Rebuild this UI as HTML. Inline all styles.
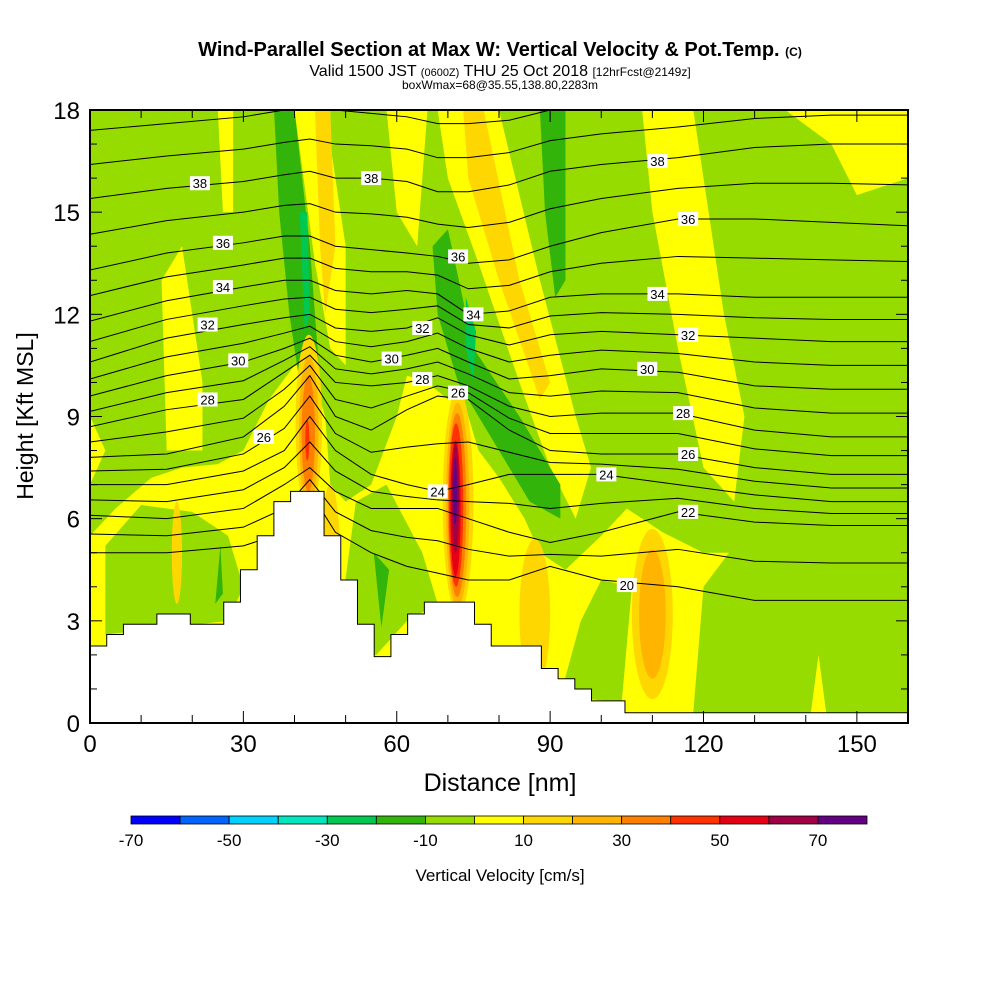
<!DOCTYPE html>
<html><head><meta charset="utf-8"><style>
body{margin:0;background:#fff;}
svg{display:block;font-family:"Liberation Sans",sans-serif;}
</style></head><body>
<svg id="c" width="1000" height="1000" viewBox="0 0 1000 1000">
<text x="500" y="56" text-anchor="middle" font-size="20" font-weight="bold">Wind-Parallel Section at Max W: Vertical Velocity &amp; Pot.Temp. <tspan font-size="12">(C)</tspan></text>
<text x="500" y="76" text-anchor="middle" font-size="16">Valid 1500 JST <tspan font-size="11">(0600Z)</tspan> THU 25 Oct 2018 <tspan font-size="12">[12hrFcst@2149z]</tspan></text>
<text x="500" y="89" text-anchor="middle" font-size="12">boxWmax=68@35.55,138.80,2283m</text>
<defs><clipPath id="pc"><rect x="90" y="110" width="818" height="613"/></clipPath></defs>
<g id="field" clip-path="url(#pc)"></g>
<g id="cont" clip-path="url(#pc)"></g>
<g id="terr"></g>
<g id="axes"></g>
<g id="cbar"></g>
<text x="500" y="791" text-anchor="middle" font-size="25">Distance [nm]</text>
<text transform="translate(33,416) rotate(-90)" text-anchor="middle" font-size="23">Height [Kft MSL]</text>
<text x="500" y="881" text-anchor="middle" font-size="17">Vertical Velocity [cm/s]</text>
</svg>
<script>
const colorLevels=[-70,-60,-50,-40,-30,-20,-10,0,10,20,30,40,50,60,70];
const colorList=["#0000ff","#0064ff","#00d2ff","#00e6be","#00c850","#32b40a","#96dc00","#ffff00","#ffd700","#ffb400","#ff8000","#ff3200","#e60014","#a00046","#640082"];
const xTicks=[0,30,60,90,120,150];
const yTicks=[0,3,6,9,12,15,18];
const cbLabels=[-70,-50,-30,-10,10,30,50,70];
// terrain heights (kft) per grid column (3.27 nm)
const terrainCol=3.27;
const terrain=[2.26,2.6,2.9,2.9,3.2,3.2,2.9,2.9,3.55,4.5,5.5,6.5,6.8,6.8,5.5,4.2,2.9,1.95,2.6,3.2,3.55,3.55,3.55,2.9,2.26,2.26,2.26,1.6,1.3,1.0,0.65,0.65,0.3,0.3,0.3,0.3,0.3,0.3,0.3,0.3,0.3,0.3,0.3,0.3,0.3,0.3,0.3,0.3,0.3,0.3];
// theta contour stations (nm) and heights (kft)
const stations=[0,15,30,38,43,48,55,62,68,74,82,90,100,115,130,145,160];
const th20=[5.0,5.0,5.2,5.6,6.8,5.6,5.0,4.6,4.4,4.2,4.2,4.6,4.2,4.0,3.6,3.6,3.6];
const th22=[6.1,6.0,6.3,7.0,7.5,6.8,6.3,6.3,6.3,6.0,5.6,5.3,5.6,6.2,5.9,5.8,5.8];
const th24=[7.0,7.0,7.4,8.0,9.0,8.0,7.3,7.0,6.8,7.0,7.3,7.3,7.3,7.0,6.7,6.5,6.5];
const th26=[7.8,7.9,8.4,9.3,10.2,9.0,8.6,9.2,9.6,9.5,8.6,8.0,7.9,7.9,7.5,7.3,7.3];
const th28=[8.7,9.2,9.5,10.3,10.8,10.0,9.9,10.0,10.2,9.9,9.3,9.0,9.1,9.1,8.6,8.4,8.4];
const th30=[9.6,10.2,10.6,11.0,11.3,10.8,10.6,10.8,11.0,10.6,10.1,10.2,10.4,10.3,9.9,9.8,9.8];
const th32=[10.6,11.3,11.7,11.9,12.0,11.6,11.5,11.6,11.9,11.4,11.1,11.4,11.5,11.4,11.3,11.2,11.2];
const th34=[11.8,12.4,12.8,13.0,13.0,12.7,12.6,12.7,12.6,12.0,12.1,12.5,12.6,12.6,12.5,12.5,12.5];
const th36=[13.3,13.8,14.1,14.3,14.3,14.0,13.9,13.8,13.7,13.5,13.6,14.0,14.4,14.8,14.8,14.7,14.6];
const th38=[15.4,15.7,15.9,16.1,16.2,16.0,16.0,15.9,15.6,15.6,15.8,16.2,16.4,16.6,16.9,17.0,17.0];
const th40=[17.4,17.6,17.8,18.0,18.1,18.0,17.9,17.8,17.6,17.6,17.7,18.0,18.2,18.4,18.6,18.7,18.7];
const thetaLevels=[20,22,24,26,28,30,32,34,36,38,40];
const thetaLines=[th20,th22,th24,th26,th28,th30,th32,th34,th36,th38,th40];
// contour labels [value, nm, kft]
const labelVals=[38,36,34,32,30,28,26,38,36,34,32,30,28,26,24,38,36,34,32,30,28,26,24,22,20];
const labelX=[21.5,26,26,23,29,23,34,55,72,75,65,59,65,72,68,111,117,111,117,109,116,117,101,117,105];
const labelY=[15.85,14.1,12.8,11.7,10.65,9.5,8.4,16.0,13.7,12.0,11.6,10.7,10.1,9.7,6.8,16.5,14.8,12.6,11.4,10.4,9.1,7.9,7.3,6.2,4.05];
// velocity field regions: level index into colorList, polygon in (nm,kft)
const polyLevels=[7,6,6,6,6,7,7,7,7,8,7,8,7,7,7,5,5,5,5,5,4,4];
const polys=[
[[0,0],[0,5.5],[5,6.3],[12,7.2],[18,7.5],[25,7.6],[30,8],[35,9.5],[40,10.5],[43,10.5],[46,9],[47,7],[50,6.5],[55,7],[60,9],[62,10.2],[66,10],[70,9.5],[73,9.5],[76,8],[80,7.2],[85,6],[88,5],[93,4.5],[100,5.5],[105,6.3],[112,5.6],[120,5],[128,5],[132,4],[140,3.6],[160,3.5],[160,0]],
[[3,2.6],[3,5.2],[10,6.4],[20,6.2],[27,5.5],[30,4],[27,3]],
[[48,2],[52,6.5],[58,7],[65,5],[68,3.5],[62,3],[56,2]],
[[118,0.3],[120,4],[126,5.2],[135,4.8],[160,4.5],[160,0.3],[144,0.3],[142.5,2],[141,0.3]],
[[92,0.8],[96,3],[100,4.2],[106,4],[104,0.6]],
[[40,18],[46,18],[50,14],[50,10.5],[47,11],[44,13.5]],
[[14,13],[18,14],[22,10],[22,8],[15,8]],
[[68,18],[80,18],[88,13],[95,9],[98,7.5],[95,6],[90,7.5],[84,10],[76,13.5],[70,16]],
[[108,18],[118,18],[124,12],[128,9],[126,6.5],[120,7.5],[115,11],[110,15]],
[[73,18],[77,18],[84,13],[90,10],[88,9.5],[80,13],[74,16]],
[[136,18],[160,18],[160,16],[150,15.5],[145,17]],
[[44,18],[47,18],[48,14],[46,12],[45,14]],
[[25,18],[28,18],[28,15],[26,15]],
[[58,18],[66,18],[64,14],[60,15]],
[[0,7],[0,9],[3,8]],
[[36,18],[40,18],[43,14],[45,10],[44,7.5],[42,9],[39,12],[37,15]],
[[67,14],[70,14.5],[75,11],[84,9],[92,7],[92,6],[86,6.5],[78,8.5],[72,10],[68,12]],
[[88,18],[93,18],[93,13],[91,12.5],[89,15]],
[[55.5,5],[57,2.8],[58.5,4.5]],
[[24.5,3.5],[25.5,5.2],[26,3.8]],
[[41,15],[42.5,15],[43,12],[42,11.5]],
[[73.5,12.5],[75.5,11.5],[75,10],[73.5,11]]];
// ellipse cores: level, cx, cy, rx(nm), ry(kft)
const blobLev=[8,8,8,8,9,8,9,10,11,8,9,10,11,12,13,14];
const blobX=[17,47,87,110,110,42.8,42.8,42.7,42.5,72,71.9,71.8,71.6,71.5,71.5,71.4];
const blobY=[5,4.5,3.2,3.2,3.2,8.8,8.6,8.5,8.3,6.5,6.4,6.4,6.4,6.3,6.6,6.8];
const blobRx=[1,2,3,4,2.6,2.6,1.9,1.3,0.4,3,2.3,1.8,1.4,1.0,0.7,0.4];
const blobRy=[1.5,2.5,2.2,2.5,1.9,2.6,2.2,1.7,0.6,3.3,3.0,2.7,2.4,2.0,1.6,1.0];

const NS="http://www.w3.org/2000/svg";
const X=v=>90+v*818/160, Y=v=>723-v*613/18;
function mk(t,a,p){const e=document.createElementNS(NS,t);for(const k in a)e.setAttribute(k,a[k]);p.appendChild(e);return e;}
const field=document.getElementById('field');
const bg=mk('rect',{x:90,y:110,width:818,height:613,fill:colorList[6]},field);


polys.forEach((p,i)=>{
 const e=mk('polygon',{points:p.map(q=>X(q[0])+','+Y(q[1])).join(' '),fill:colorList[polyLevels[i]]},field);
 
 
});
blobLev.forEach((l,i)=>{
 const e=mk('ellipse',{cx:X(blobX[i]),cy:Y(blobY[i]),rx:blobRx[i]*818/160,ry:blobRy[i]*613/18,fill:colorList[l]},field);
 
 
});
const cont=document.getElementById('cont');
function drawLine(arr){
 const e=mk('polyline',{points:stations.map((s,j)=>X(s)+','+Y(arr[j])).join(' '),fill:'none',stroke:'#000','stroke-width':1},cont);
 
 
}
thetaLines.forEach((arr,i)=>{
 drawLine(arr);
 if(i<thetaLines.length-1){const nx=thetaLines[i+1];drawLine(arr.map((v,j)=>(v+nx[j])/2));}
});
labelVals.forEach((v,i)=>{
 const g=mk('g',{},cont);
 
 
 mk('rect',{x:X(labelX[i])-10,y:Y(labelY[i])-7,width:20,height:14,fill:'#fff'},g);
 const t=mk('text',{x:X(labelX[i]),y:Y(labelY[i])+5,'text-anchor':'middle','font-size':13},g);t.textContent=v;
});
const terr=document.getElementById('terr');
let pts=[[X(0),Y(0)]];
terrain.forEach((h,i)=>{const x0=Math.min(160,i*terrainCol),x1=Math.min(160,(i+1)*terrainCol);pts.push([X(x0),Y(h)],[X(x1),Y(h)]);});
pts.push([X(160),Y(0)]);
const tp=mk('polygon',{points:pts.map(p=>p.join(',')).join(' '),fill:'#fff',stroke:'#000','stroke-width':1},terr);


const ax=document.getElementById('axes');
mk('rect',{x:90,y:110,width:818,height:613,fill:'none',stroke:'#000','stroke-width':2},ax);
for(let v=0;v<=160;v+=10){
 const L=v%30==0?12:8;
 mk('line',{x1:X(v),x2:X(v),y1:723,y2:723-L,stroke:'#000'},ax);
 mk('line',{x1:X(v),x2:X(v),y1:110,y2:110+L,stroke:'#000'},ax);
}
for(let v=0;v<=18;v++){
 const L=v%3==0?12:7;
 mk('line',{x1:90,x2:90+L,y1:Y(v),y2:Y(v),stroke:'#000'},ax);
 mk('line',{x1:908,x2:908-L,y1:Y(v),y2:Y(v),stroke:'#000'},ax);
}
xTicks.forEach(v=>{const t=mk('text',{x:X(v),y:752,'text-anchor':'middle','font-size':24},ax);t.textContent=v;
 
 });
yTicks.forEach(v=>{const t=mk('text',{x:80,y:Y(v)+9,'text-anchor':'end','font-size':24},ax);t.textContent=v;
 
 });
const cb=document.getElementById('cbar');
const bw=736/colorLevels.length;
colorLevels.forEach((v,i)=>{
 const r=mk('rect',{x:131+i*bw,y:816,width:bw,height:8,fill:colorList[i],stroke:'#000','stroke-width':0.8},cb);
 
 
});
cbLabels.forEach(v=>{const t=mk('text',{x:131+(v+70)/10*bw,y:846,'text-anchor':'middle','font-size':17},cb);t.textContent=v;
 
 });
</script>
</body></html>
